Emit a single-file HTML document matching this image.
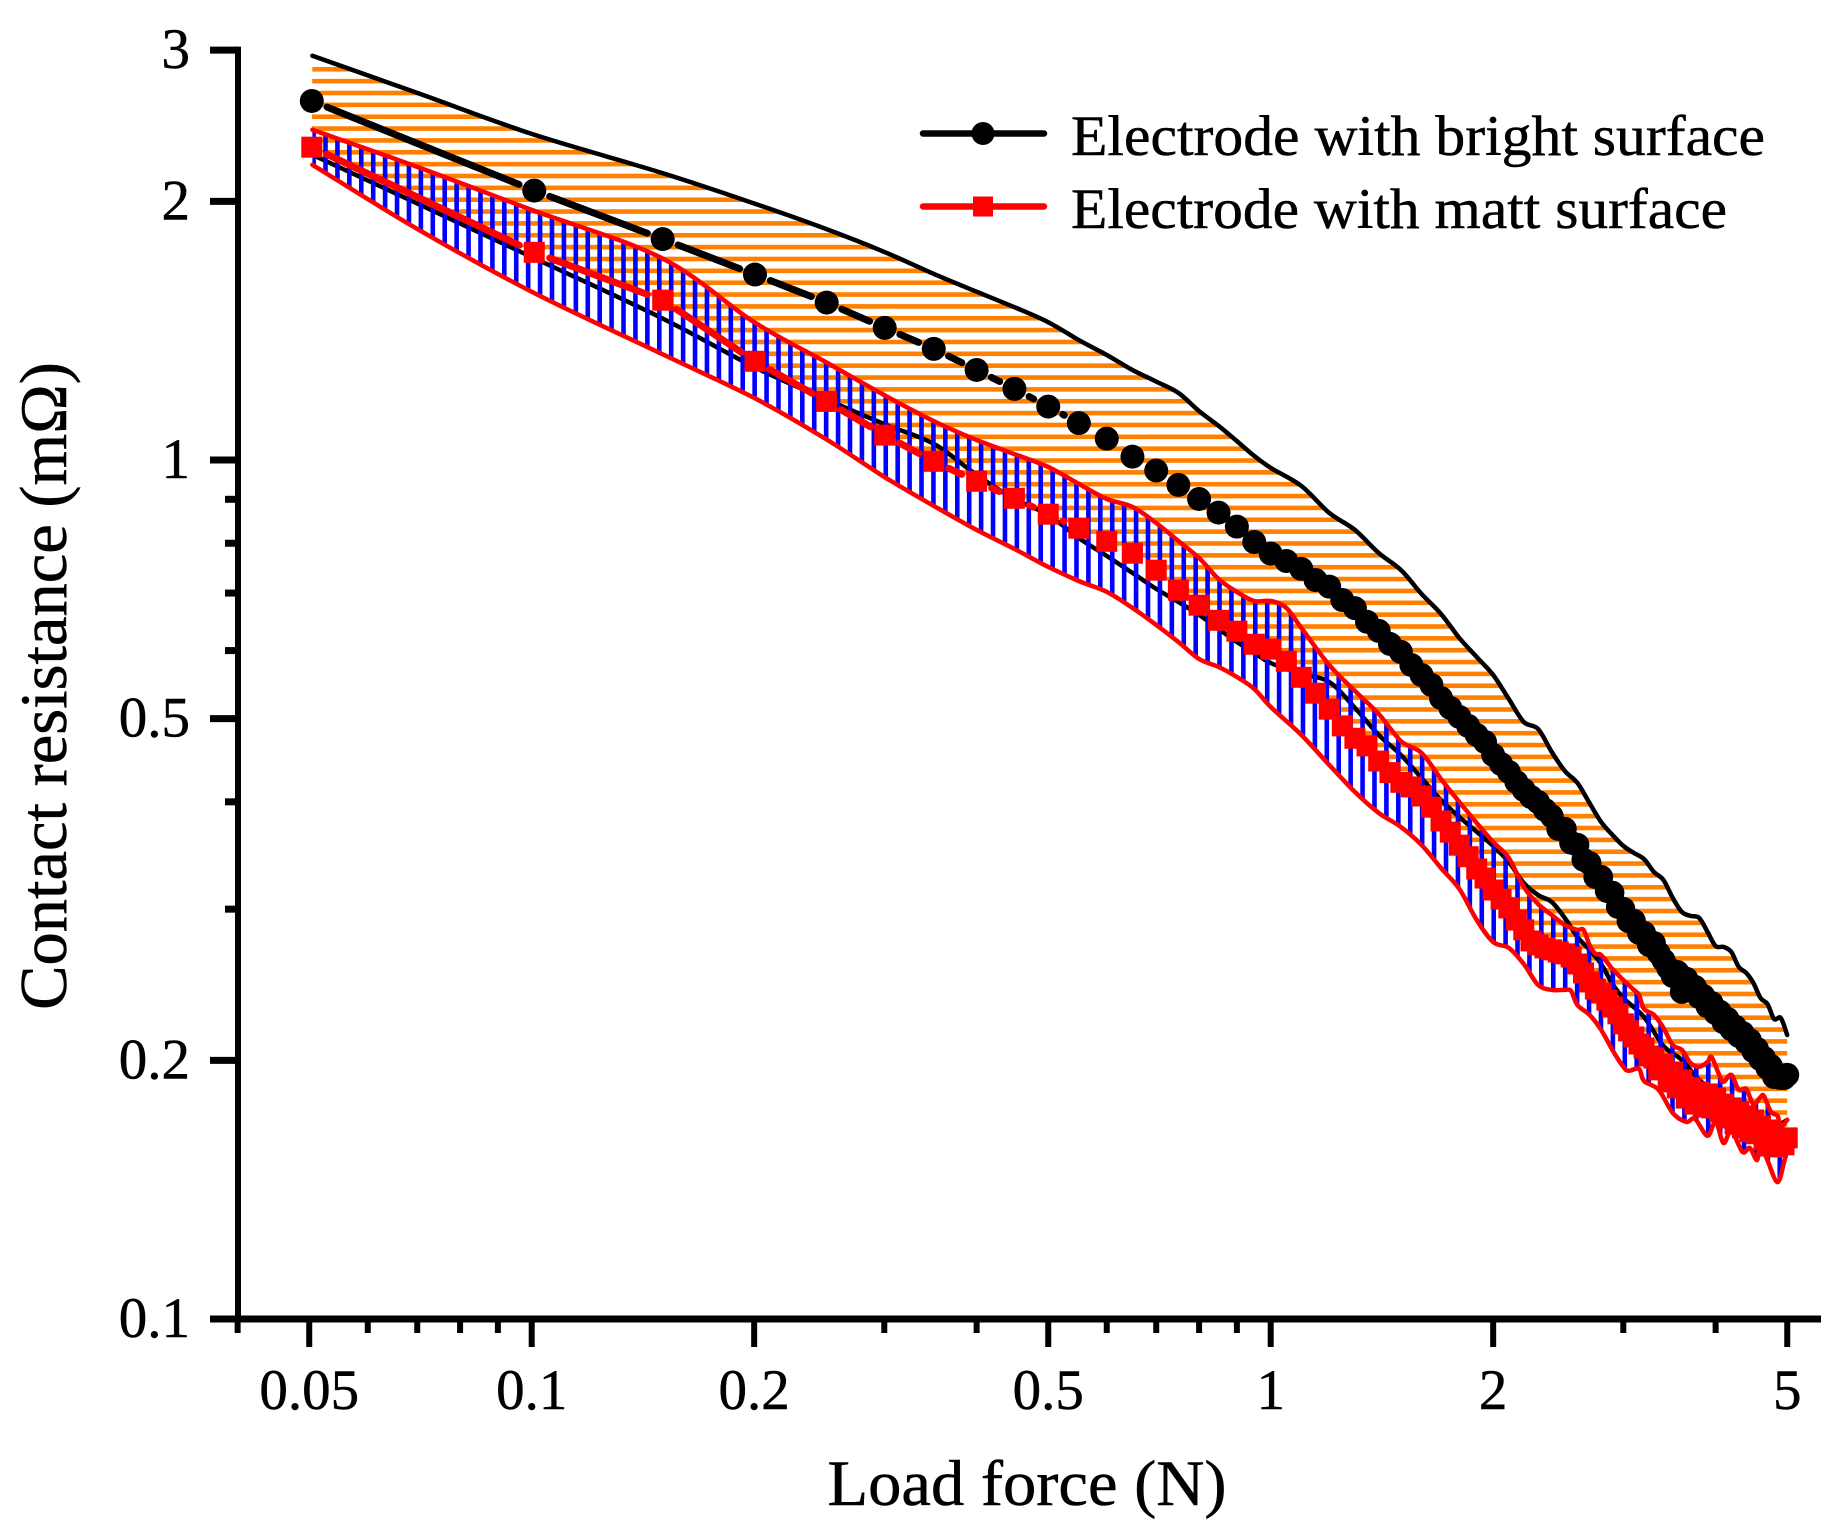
<!DOCTYPE html>
<html lang="en">
<head>
<meta charset="utf-8">
<title>Contact resistance vs load force</title>
<style>
html,body{margin:0;padding:0;background:#fff;}
svg{display:block;}
text{font-family:"Liberation Serif","DejaVu Serif",serif;fill:#000;stroke:#000;stroke-width:0.5px;}
</style>
</head>
<body>
<svg id="chart" xmlns="http://www.w3.org/2000/svg" width="1840" height="1538" viewBox="0 0 1840 1538">
  <rect x="0" y="0" width="1840" height="1538" fill="#fff"/>
  <defs>
    <clipPath id="orange-clip"><polygon id="orange-clip-shape" points=""/></clipPath>
    <clipPath id="blue-clip"><polygon id="blue-clip-shape" points=""/></clipPath>
  </defs>
  <g id="orange-hatch" clip-path="url(#orange-clip)"></g>
  <g id="bright-bounds"></g>
  <g id="blue-hatch" clip-path="url(#blue-clip)"></g>
  <g id="matt-bounds"></g>
  <g id="bright-series"></g>
  <g id="matt-series"></g>
  <g id="axes"></g>
  <text x="1027" y="1505" font-size="65" text-anchor="middle" textLength="399" lengthAdjust="spacingAndGlyphs">Load force (N)</text>
  <text transform="translate(66,686) rotate(-90)" font-size="66.5" text-anchor="middle">Contact resistance (mΩ)</text>
  <g>
    <g>
      <line x1="923" y1="133.5" x2="1044" y2="133.5" stroke="#000" stroke-width="6.5" stroke-linecap="round"/>
      <circle cx="983" cy="133.5" r="11.5" fill="#000"/>
      <text x="1071" y="155" font-size="57" textLength="694" lengthAdjust="spacingAndGlyphs">Electrode with bright surface</text>
    </g>
    <g>
      <line x1="923" y1="206.5" x2="1044" y2="206.5" stroke="#f00" stroke-width="6.5" stroke-linecap="round"/>
      <rect x="973" y="196.5" width="20" height="20" fill="#f00"/>
      <text x="1071" y="228" font-size="57" textLength="656" lengthAdjust="spacingAndGlyphs">Electrode with matt surface</text>
    </g>
  </g>
</svg>
<script>
var meanForces=[0.0504,0.1008,0.1504,0.2005,0.2507,0.3004,0.35,0.4,0.45,0.5,0.55,0.6,0.65,0.7,0.75,0.8,0.85,0.9,0.95,1,1.05,1.1,1.15,1.2,1.25,1.3,1.35,1.4,1.45,1.5,1.55,1.6,1.65,1.7,1.75,1.8,1.85,1.9,1.95,2,2.05,2.1,2.15,2.2,2.25,2.3,2.35,2.4,2.45,2.5,2.55,2.6,2.65,2.7,2.75,2.8,2.85,2.9,2.95,3,3.05,3.1,3.15,3.2,3.25,3.3,3.35,3.4,3.45,3.5,3.55,3.6,3.65,3.7,3.75,3.8,3.85,3.9,3.95,4,4.05,4.1,4.15,4.2,4.25,4.3,4.35,4.4,4.45,4.5,4.55,4.6,4.65,4.7,4.75,4.8,4.85,4.9,4.95,5];
var brightMean=[2.618,2.059,1.808,1.644,1.525,1.425,1.347,1.273,1.210,1.154,1.104,1.059,1.009,.9721,.9354,.9008,.8685,.8365,.8027,.7781,.7628,.7468,.7249,.7122,.6871,.6722,.6481,.6325,.6108,.5979,.5773,.5620,.5472,.5284,.5145,.5022,.4903,.4786,.4696,.4536,.4427,.4334,.4219,.4130,.4052,.3998,.3915,.3850,.3720,.3720,.3585,.3565,.3425,.3395,.3270,.3270,.3150,.3135,.3018,.3002,.2905,.2908,.2815,.2815,.2725,.2740,.2665,.2617,.2563,.2508,.2535,.2403,.2490,.2420,.2436,.2370,.2378,.2312,.2333,.2270,.2280,.2215,.2236,.2175,.2190,.2135,.2153,.2100,.2112,.2050,.2063,.2006,.2014,.1960,.1971,.1913,.1914,.1908,.1908,.1924];
var mattMean=[2.313,1.745,1.535,1.303,1.170,1.069,.9965,.9445,.9025,.8648,.8329,.8041,.7789,.7443,.7054,.6776,.6507,.6320,.6103,.6022,.5830,.5585,.5352,.5128,.4903,.4743,.4647,.4462,.4326,.4215,.4163,.4063,.3943,.3800,.3688,.3561,.3453,.3341,.3261,.3158,.3082,.3010,.2914,.2838,.2755,.2726,.2704,.2690,.2675,.2661,.2639,.2590,.2529,.2468,.2422,.2396,.2351,.2308,.2266,.2206,.2165,.2130,.2090,.2068,.2024,.2013,.1950,.1981,.1888,.1939,.1858,.1898,.1808,.1858,.1779,.1838,.1765,.1828,.1761,.1808,.1743,.1779,.1714,.1761,.1687,.1743,.1669,.1724,.1652,.1705,.1643,.1678,.1616,.1660,.1590,.1634,.1586,.1620,.1595,.1625];

var brightUpperForces=[0.0505,0.07,0.1,0.15,0.2,0.25,0.3,0.35,0.4,0.45,0.5,0.55,0.6,0.65,0.7,0.75,0.8,0.85,0.9,0.95,1,1.1,1.2,1.3,1.4,1.5,1.6,1.7,1.8,1.9,2,2.1,2.2,2.3,2.4,2.5,2.6,2.7,2.8,2.9,3,3.1,3.2,3.3,3.4,3.5,3.6,3.7,3.8,3.9,4,4.1,4.2,4.3,4.4,4.5,4.6,4.7,4.8,4.9,5];
var brightUpper=[2.955,2.675,2.397,2.159,1.989,1.858,1.747,1.647,1.570,1.506,1.447,1.379,1.325,1.273,1.234,1.197,1.140,1.096,1.052,1.011,.9791,.9329,.8678,.8291,.7795,.7448,.6984,.6620,.6206,.5898,.5620,.5269,.4955,.4864,.4573,.4346,.4208,.3988,.3790,.3661,.3554,.3488,.3431,.3315,.3243,.3091,.2978,.2946,.2930,.2823,.2718,.2711,.2675,.2569,.2529,.2461,.2364,.2327,.2235,.2241,.2141];

var brightLowerForces=[0.0505,0.07,0.1,0.15,0.2,0.25,0.3,0.35,0.4,0.45,0.5,0.55,0.6,0.65,0.7,0.75,0.8,0.85,0.9,0.95,1,1.1,1.2,1.3,1.4,1.5,1.6,1.7,1.8,1.9,2,2.1,2.2,2.3,2.4,2.5,2.6,2.7,2.8,2.9,3,3.2,3.4,3.6,3.8,4,4.2,4.5,4.8,5];
var brightLower=[2.266,1.989,1.723,1.463,1.283,1.177,1.101,1.044,.9608,.9008,.8631,.8113,.7732,.7389,.7079,.6835,.6602,.6359,.6140,.5963,.5804,.5636,.5515,.5145,.4786,.4536,.4264,.4019,.3841,.3691,.3554,.3404,.3218,.3116,.3058,.2930,.2785,.2690,.2590,.2455,.2364,.2247,.2079,.2002,.1898,.1838,.1798,.1743,.1683,.1705];

var mattUpperForces=[0.0505,0.07,0.1,0.15,0.2,0.25,0.3,0.35,0.4,0.45,0.5,0.55,0.6,0.65,0.7,0.75,0.8,0.85,0.9,0.95,1,1.05,1.1,1.2,1.3,1.4,1.5,1.6,1.7,1.8,1.9,2,2.1,2.2,2.3,2.4,2.5,2.6,2.65,2.7,2.75,2.8,2.9,3,3.1,3.15,3.2,3.3,3.4,3.5,3.6,3.7,3.8,3.9,3.95,4.05,4.1,4.2,4.3,4.4,4.5,4.6,4.65,4.75,4.85,4.9,5];
var mattUpper=[2.423,2.194,1.955,1.718,1.447,1.300,1.190,1.110,1.055,1.016,.9817,.9379,.9008,.8819,.8447,.8048,.7690,.7269,.7022,.6853,.6853,.6727,.6376,.5773,.5385,.5063,.4709,.4560,.4253,.3998,.3780,.3592,.3441,.3184,.3042,.2954,.2876,.2838,.2838,.2726,.2661,.2653,.2556,.2481,.2416,.2384,.2296,.2260,.2182,.2084,.2057,.1986,.1966,.1992,.2018,.1919,.1888,.1924,.1848,.1853,.1779,.1813,.1818,.1743,.1724,.1678,.1705];

var mattLowerForces=[0.0505,0.07,0.1,0.15,0.2,0.25,0.3,0.35,0.4,0.45,0.5,0.55,0.6,0.65,0.7,0.75,0.8,0.85,0.9,0.95,1,1.1,1.2,1.3,1.4,1.5,1.6,1.7,1.8,1.9,2,2.1,2.2,2.3,2.4,2.5,2.55,2.6,2.7,2.8,2.9,3,3.05,3.15,3.2,3.35,3.5,3.65,3.75,3.9,4,4.1,4.2,4.35,4.45,4.55,4.6,4.7,4.85,4.95,5];
var mattLower=[2.206,1.858,1.570,1.329,1.181,1.058,.9556,.8842,.8291,.7880,.7508,.7230,.7022,.6727,.6427,.6140,.5866,.5743,.5590,.5414,.5159,.4786,.4416,.4108,.3883,.3740,.3564,.3350,.3167,.2914,.2747,.2704,.2590,.2449,.2416,.2416,.2409,.2320,.2260,.2171,.2057,.1966,.1945,.1955,.1893,.1848,.1737,.1696,.1710,.1634,.1696,.1603,.1655,.1565,.1582,.1531,.1599,.1531,.1443,.1523,.1574];

var xMajorTicks=[0.05,0.1,0.2,0.5,1,2,5];
var xMajorLabels=["0.05","0.1","0.2","0.5","1","2","5"];
var xMinorTicks=[0.04,0.06,0.07,0.08,0.09,0.3,0.4,0.6,0.7,0.8,0.9,3,4];
var yMajorTicks=[3,2,1,0.5,0.2,0.1];
var yMajorLabels=["3","2","1","0.5","0.2","0.1"];
var yMinorTicks=[0.9,0.8,0.7,0.6,0.4,0.3];

var SVG_NS="http://www.w3.org/2000/svg";
function xScale(f){return 1270.7+739*Math.log10(f);}
function yScale(v){return 460-859*Math.log10(v);}
function make(tag,parent){var n=document.createElementNS(SVG_NS,tag);parent.appendChild(n);return n;}
function pathPoints(forces,values){
  var out=[];
  for(var i=0;i<forces.length;i++){out.push(xScale(forces[i]).toFixed(1)+","+yScale(values[i]).toFixed(1));}
  return out;
}
function smoothPath(forces,values){
  var px=forces.map(xScale),py=values.map(yScale),n=px.length;
  var d="M"+px[0].toFixed(1)+" "+py[0].toFixed(1);
  for(var i=0;i<n-1;i++){
    var a=Math.max(i-1,0),b=Math.min(i+2,n-1);
    var c1x=px[i]+(px[i+1]-px[a])/6,c1y=py[i]+(py[i+1]-py[a])/6;
    var c2x=px[i+1]-(px[b]-px[i])/6,c2y=py[i+1]-(py[b]-py[i])/6;
    d+=" C"+c1x.toFixed(1)+" "+c1y.toFixed(1)+" "+c2x.toFixed(1)+" "+c2y.toFixed(1)+" "+px[i+1].toFixed(1)+" "+py[i+1].toFixed(1);
  }
  return d;
}

var axes=document.getElementById("axes");
var yAxisLine=make("line",axes);


yAxisLine.setAttribute("x1",238);yAxisLine.setAttribute("x2",238);
yAxisLine.setAttribute("y1",yScale(3)-3.5);yAxisLine.setAttribute("y2",yScale(0.1)+3.5);
yAxisLine.setAttribute("stroke","#000");yAxisLine.setAttribute("stroke-width",6);
var xAxisLine=make("line",axes);


xAxisLine.setAttribute("x1",210);xAxisLine.setAttribute("x2",1821);
xAxisLine.setAttribute("y1",yScale(0.1));xAxisLine.setAttribute("y2",yScale(0.1));
xAxisLine.setAttribute("stroke","#000");xAxisLine.setAttribute("stroke-width",7);

yMajorTicks.forEach(function(v,i){
  var t=make("line",axes);
  
  
  t.setAttribute("x1",210);t.setAttribute("x2",238);
  t.setAttribute("y1",yScale(v));t.setAttribute("y2",yScale(v));
  t.setAttribute("stroke","#000");t.setAttribute("stroke-width",7);
  var l=make("text",axes);
  
  
  l.setAttribute("x",190);l.setAttribute("y",yScale(v)+18);
  l.setAttribute("font-size",57);l.setAttribute("text-anchor","end");
  l.textContent=yMajorLabels[i];
});
yMinorTicks.forEach(function(v){
  var t=make("line",axes);
  
  
  t.setAttribute("x1",225);t.setAttribute("x2",238);
  t.setAttribute("y1",yScale(v));t.setAttribute("y2",yScale(v));
  t.setAttribute("stroke","#000");t.setAttribute("stroke-width",7);
});
xMajorTicks.forEach(function(f,i){
  var t=make("line",axes);
  
  
  t.setAttribute("x1",xScale(f));t.setAttribute("x2",xScale(f));
  t.setAttribute("y1",1319);t.setAttribute("y2",1347);
  t.setAttribute("stroke","#000");t.setAttribute("stroke-width",6);
  var l=make("text",axes);
  
  
  l.setAttribute("x",xScale(f));l.setAttribute("y",1409);
  l.setAttribute("font-size",57);l.setAttribute("text-anchor","middle");
  l.textContent=xMajorLabels[i];
});
xMinorTicks.forEach(function(f){
  var t=make("line",axes);
  
  
  t.setAttribute("x1",xScale(f));t.setAttribute("x2",xScale(f));
  t.setAttribute("y1",1319);t.setAttribute("y2",1333);
  t.setAttribute("stroke","#000");t.setAttribute("stroke-width",6);
});

var upperPts=pathPoints(brightUpperForces,brightUpper);
var meanMattPts=pathPoints(meanForces,mattMean);
document.getElementById("orange-clip-shape").setAttribute("points",upperPts.concat(meanMattPts.slice().reverse()).join(" "));
var mattUpPts=pathPoints(mattUpperForces,mattUpper);
var mattLowPts=pathPoints(mattLowerForces,mattLower);
document.getElementById("blue-clip-shape").setAttribute("points",mattUpPts.concat(mattLowPts.slice().reverse()).join(" "));

var orangeGroup=document.getElementById("orange-hatch");
for(var k=0;k<95;k++){
  var h=make("rect",orangeGroup);
  
  
  h.setAttribute("x",300);h.setAttribute("width",1500);
  h.setAttribute("y",(69.3+11.855*k-2.3).toFixed(2));h.setAttribute("height",4.6);
  h.setAttribute("fill","#ff8000");
}
var blueGroup=document.getElementById("blue-hatch");
for(var m=0;m<125;m++){
  var b=make("rect",blueGroup);
  
  
  b.setAttribute("x",(313.6+11.92*m-2.3).toFixed(2));b.setAttribute("width",4.6);
  b.setAttribute("y",100);b.setAttribute("height",1150);
  b.setAttribute("fill","#0000ff");
}

var brightBounds=document.getElementById("bright-bounds");
var bu=make("path",brightBounds);


bu.setAttribute("d",smoothPath(brightUpperForces,brightUpper));
bu.setAttribute("fill","none");bu.setAttribute("stroke","#000");bu.setAttribute("stroke-width",4.5);bu.setAttribute("stroke-linecap","round");bu.setAttribute("stroke-linejoin","round");
var bl=make("path",brightBounds);


bl.setAttribute("d",smoothPath(brightLowerForces,brightLower));
bl.setAttribute("fill","none");bl.setAttribute("stroke","#000");bl.setAttribute("stroke-width",4.5);bl.setAttribute("stroke-linecap","round");bl.setAttribute("stroke-linejoin","round");

var mattBounds=document.getElementById("matt-bounds");
var mu=make("path",mattBounds);


mu.setAttribute("d",smoothPath(mattUpperForces,mattUpper));
mu.setAttribute("fill","none");mu.setAttribute("stroke","#f00");mu.setAttribute("stroke-width",4.5);mu.setAttribute("stroke-linecap","round");mu.setAttribute("stroke-linejoin","round");
var ml=make("path",mattBounds);


ml.setAttribute("d",smoothPath(mattLowerForces,mattLower));
ml.setAttribute("fill","none");ml.setAttribute("stroke","#f00");ml.setAttribute("stroke-width",4.5);ml.setAttribute("stroke-linecap","round");ml.setAttribute("stroke-linejoin","round");

var GAP=16.5;
function drawSegments(values,group,color,segName){
  for(var i=0;i<meanForces.length-1;i++){
    var x1=xScale(meanForces[i]),y1=yScale(values[i]),x2=xScale(meanForces[i+1]),y2=yScale(values[i+1]);
    var d=Math.hypot(x2-x1,y2-y1);
    if(d<=2*GAP){continue;}
    var ux=(x2-x1)/d,uy=(y2-y1)/d;
    var seg=make("line",group);
    
    
    seg.setAttribute("x1",x1+ux*GAP);seg.setAttribute("y1",y1+uy*GAP);
    seg.setAttribute("x2",x2-ux*GAP);seg.setAttribute("y2",y2-uy*GAP);
    seg.setAttribute("stroke",color);seg.setAttribute("stroke-width",7);seg.setAttribute("stroke-linecap","round");
  }
}
var brightGroup=document.getElementById("bright-series");
drawSegments(brightMean,brightGroup,"#000","bright-line-segment");
brightMean.forEach(function(v,i){
  var c=make("circle",brightGroup);
  
  
  c.setAttribute("cx",xScale(meanForces[i]));c.setAttribute("cy",yScale(v));c.setAttribute("r",12);c.setAttribute("fill","#000");
});
var mattGroup=document.getElementById("matt-series");
drawSegments(mattMean,mattGroup,"#f00","matt-line-segment");
mattMean.forEach(function(v,i){
  var s=make("rect",mattGroup);
  
  
  s.setAttribute("x",xScale(meanForces[i])-10.5);s.setAttribute("y",yScale(v)-10.5);s.setAttribute("width",21);s.setAttribute("height",21);s.setAttribute("fill","#f00");
});
</script>
</body>
</html>
